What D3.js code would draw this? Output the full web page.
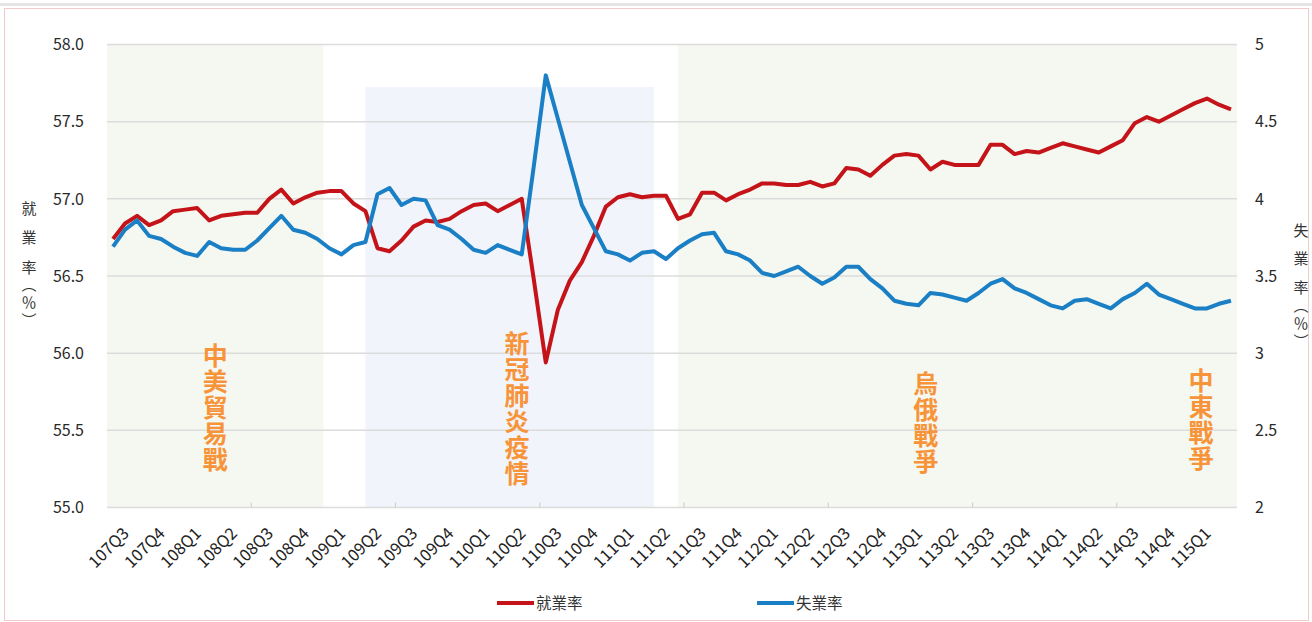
<!DOCTYPE html>
<html><head><meta charset="utf-8">
<script src="https://cdn.jsdelivr.net/npm/d3@7"></script>
<style>
body{margin:0;background:#fff;}
svg{display:block;font-family:"Noto Sans CJK TC","Noto Sans",sans-serif;}
.vt{writing-mode:vertical-rl;}
</style>
</head><body><svg id="c" width="1312" height="622"></svg>
<script>
// 就業率 (%) monthly, left axis
const employment = [
 56.74,56.84,56.89,56.83,56.86,56.92,56.93,56.94,56.86,56.89,56.90,56.91,56.91,57.00,57.06,56.97,
 57.01,57.04,57.05,57.05,56.97,56.92,56.68,56.66,56.73,56.82,56.86,56.85,56.87,56.92,56.96,56.97,
 56.92,56.96,57.00,56.48,55.94,56.28,56.47,56.59,56.76,56.95,57.01,57.03,57.01,57.02,57.02,56.87,
 56.90,57.04,57.04,56.99,57.03,57.06,57.10,57.10,57.09,57.09,57.11,57.08,57.10,57.20,57.19,57.15,
 57.22,57.28,57.29,57.28,57.19,57.24,57.22,57.22,57.22,57.35,57.35,57.29,57.31,57.30,57.33,57.36,
 57.34,57.32,57.30,57.34,57.38,57.49,57.53,57.50,57.54,57.58,57.62,57.65,57.61,57.58
];
// 失業率 (%) monthly, right axis
const unemployment = [
 3.69,3.80,3.86,3.76,3.74,3.69,3.65,3.63,3.72,3.68,3.67,3.67,3.73,3.81,3.89,3.80,
 3.78,3.74,3.68,3.64,3.70,3.72,4.03,4.07,3.96,4.00,3.99,3.83,3.80,3.74,3.67,3.65,
 3.70,3.67,3.64,4.21,4.80,4.52,4.24,3.96,3.81,3.66,3.64,3.60,3.65,3.66,3.61,3.68,
 3.73,3.77,3.78,3.66,3.64,3.60,3.52,3.50,3.53,3.56,3.50,3.45,3.49,3.56,3.56,3.48,
 3.42,3.34,3.32,3.31,3.39,3.38,3.36,3.34,3.39,3.45,3.48,3.42,3.39,3.35,3.31,3.29,
 3.34,3.35,3.32,3.29,3.35,3.39,3.45,3.38,3.35,3.32,3.29,3.29,3.32,3.34
];
// quarter tick labels (one every three months)
const quarterLabels = ["107Q3","107Q4","108Q1","108Q2","108Q3","108Q4","109Q1","109Q2","109Q3","109Q4",
 "110Q1","110Q2","110Q3","110Q4","111Q1","111Q2","111Q3","111Q4","112Q1","112Q2","112Q3","112Q4",
 "113Q1","113Q2","113Q3","113Q4","114Q1","114Q2","114Q3","114Q4","115Q1"];
const leftTicks = [55.0,55.5,56.0,56.5,57.0,57.5,58.0];
const rightTicks = [2,2.5,3,3.5,4,4.5,5];
const seriesNames = ["就業率","失業率"];
const eventNames = ["中美貿易戰","新冠肺炎疫情","烏俄戰爭","中東戰爭"];

// months: first point is 107/06
const categories = employment.map((d,i)=>{const m=5+i; return (107+Math.floor(m/12))+"/"+String(m%12+1).padStart(2,"0");});

const W=1312,H=622, L=107, R=1237, T=44.5, B=507.5;
const svg=d3.select("#c");
const x=d3.scaleLinear().domain([-0.5,categories.length-0.5]).range([L,R]);
const yL=d3.scaleLinear().domain([55,58]).range([B,T]);
const yR=d3.scaleLinear().domain([2,5]).range([B,T]);
const RED="#c41419", BLUE="#1a7fc5", ORANGE="#f7943a";

// frame
svg.append("rect").attr("x",0).attr("y",3).attr("width",W).attr("height",3).attr("fill","#e4e4e4");
svg.append("rect").attr("x",4.5).attr("y",8.5).attr("width",W-8).attr("height",H-10).attr("fill","none").attr("stroke","#f2caca").attr("stroke-width",1);

// event bands
const bands=[
 {from:-0.5,to:17.5,top:58,fill:"#f4f8f0"},
 {from:21,to:45,top:57.725,fill:"#f1f5fb"},
 {from:47,to:93.5,top:58,fill:"#f4f8f0"}
];
svg.selectAll("rect.band").data(bands).join("rect").attr("class","band")
 .attr("x",d=>x(d.from)).attr("width",d=>x(d.to)-x(d.from))
 .attr("y",d=>yL(d.top)).attr("height",d=>B-yL(d.top)).attr("fill",d=>d.fill);

// gridlines
svg.selectAll("line.grid").data(leftTicks).join("line").attr("class","grid")
 .attr("x1",L).attr("x2",R).attr("y1",d=>yL(d)).attr("y2",d=>yL(d))
 .attr("stroke","#dcdcdc").attr("stroke-width",1.5);

// tick marks every 12 months
const tickBounds=[12,24,36,48,60,72,84];
svg.selectAll("line.tk").data(tickBounds).join("line").attr("class","tk")
 .attr("x1",d=>x(d-0.5)).attr("x2",d=>x(d-0.5)).attr("y1",B-5).attr("y2",B)
 .attr("stroke","#d0d0d0").attr("stroke-width",1.2);

// left axis labels
svg.selectAll("text.yl").data(leftTicks).join("text").attr("class","yl")
 .attr("x",84).attr("y",d=>yL(d)).attr("dy","0.36em").attr("text-anchor","end")
 .attr("font-size",16).attr("fill","#2a2a2a").text(d=>d.toFixed(1));
// right axis labels
svg.selectAll("text.yr").data(rightTicks).join("text").attr("class","yr")
 .attr("x",1255).attr("y",d=>yR(d)).attr("dy","0.36em").attr("text-anchor","start")
 .attr("font-size",16).attr("fill","#2a2a2a").text(d=>d3.format("~g")(d));

// x labels
svg.selectAll("text.xl").data(quarterLabels).join("text").attr("class","xl")
 .attr("transform",(d,i)=>`translate(${x(1+3*i)+5},${B+27}) rotate(-45)`)
 .attr("text-anchor","end").attr("font-size",16.5).attr("fill","#222").text(d=>d);

// vertical axis titles (single vertical text each)
function vTitle(main,cx,top,ls,gap1,gap2){
 const t=svg.append("text").attr("class","vt").attr("x",cx).attr("y",top)
  .attr("font-size",15).attr("fill","#333");
 const ch=Array.from(main);
 t.append("tspan").attr("letter-spacing",ls).text(ch.slice(0,-1).join(""));
 t.append("tspan").attr("letter-spacing",gap1).text(ch[ch.length-1]);
 t.append("tspan").attr("letter-spacing",gap2).text("（％）");
}
vTitle(seriesNames[0],29,200.5,14.5,2,3);
vTitle(seriesNames[1],1301,222.5,13.5,3,3);

// event labels (vertical text)
const eventPos=[{i:8.5,top:56.06},{i:33.6,top:56.14},{i:67.6,top:55.88},{i:90.5,top:55.9}];
eventNames.forEach((name,k)=>{
 const p=eventPos[k];
 svg.append("text").attr("class","vt").attr("x",x(p.i)).attr("y",yL(p.top)-1)
  .attr("font-size",25).attr("font-weight",700).attr("letter-spacing",1)
  .attr("fill",ORANGE).text(name);
});

// lines
const lineL=d3.line().x((d,i)=>x(i)).y(d=>yL(d));
const lineR=d3.line().x((d,i)=>x(i)).y(d=>yR(d));
svg.append("path").attr("d",lineL(employment)).attr("fill","none").attr("stroke",RED).attr("stroke-width",4).attr("stroke-linejoin","round");
svg.append("path").attr("d",lineR(unemployment)).attr("fill","none").attr("stroke",BLUE).attr("stroke-width",4).attr("stroke-linejoin","round");

// legend
const leg=[{name:seriesNames[0],c:RED,x:497},{name:seriesNames[1],c:BLUE,x:757}];
leg.forEach(d=>{
 svg.append("line").attr("x1",d.x).attr("x2",d.x+37).attr("y1",603).attr("y2",603).attr("stroke",d.c).attr("stroke-width",4);
 svg.append("text").attr("x",d.x+39).attr("y",603).attr("dy","0.36em").attr("font-size",15.5).attr("fill","#333").text(d.name);
});
</script></body></html>
